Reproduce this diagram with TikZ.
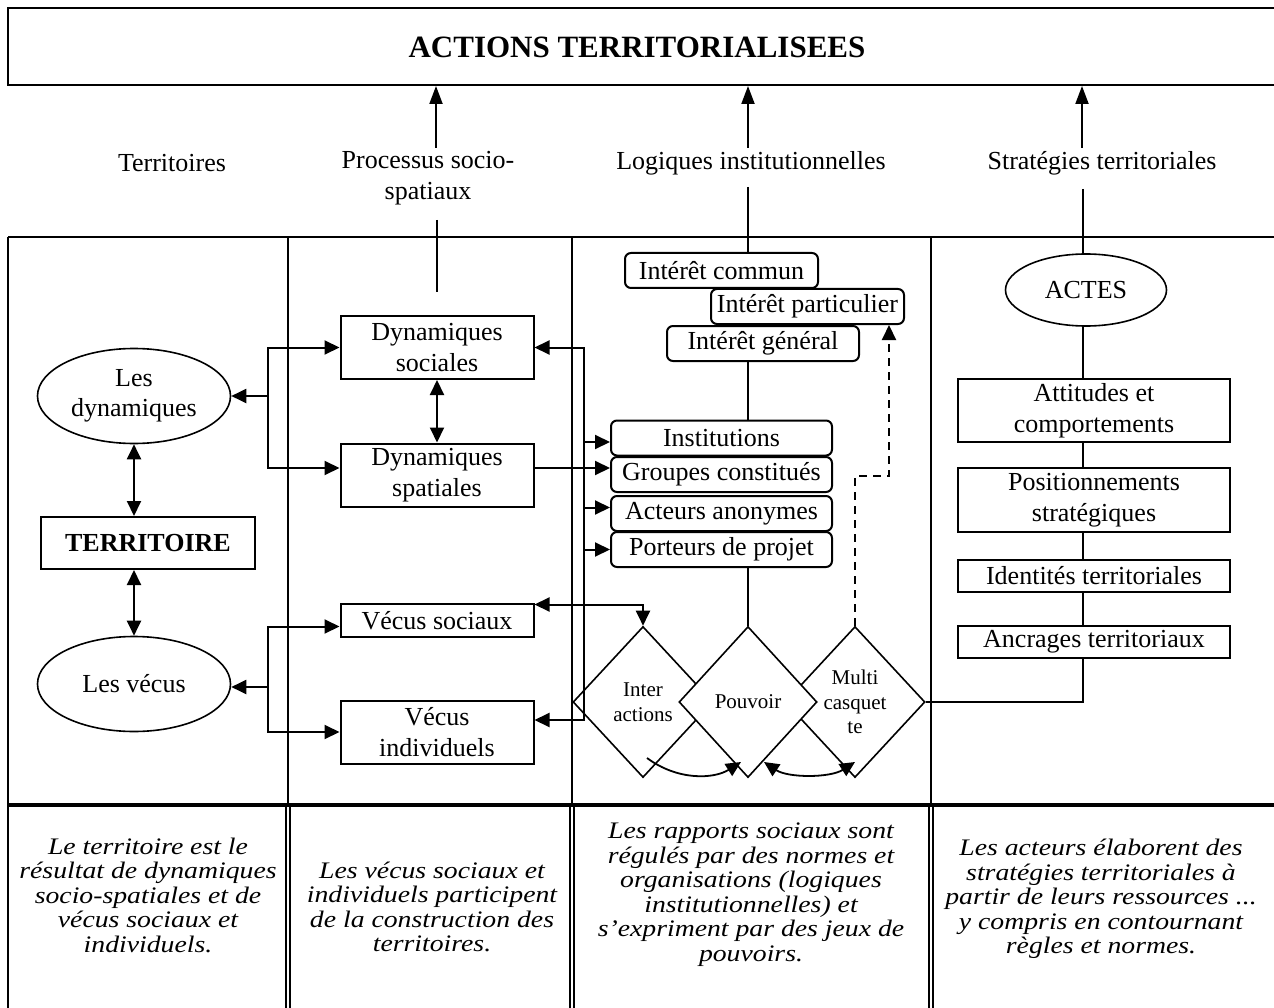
\documentclass[tikz,border=0pt]{standalone}
\usepackage{fontspec}
\setmainfont{Liberation Serif}
\newfontfamily\notefont{Liberation Serif}[FakeStretch=1.17]
\usetikzlibrary{arrows.meta,shapes.geometric}
\begin{document}
\begin{tikzpicture}[x=1pt,y=-1pt,
  every node/.style={inner sep=0pt},
  >={Triangle[length=15pt,width=14pt]},
  ln/.style={line width=2pt},
  uparrow/.style={line width=2pt,-{Triangle[length=18pt,width=13pt]}},
  rtxt/.style={font=\fontsize{26}{30.5}\selectfont,align=center},
  sq/.style={rtxt,draw,line width=2pt},
  rsq/.style={sq,rounded corners=6pt},
  ell/.style={rtxt,draw,ellipse,line width=1.6pt},
  dia/.style={draw,diamond,line width=1.6pt,minimum width=140pt,minimum height=151pt,align=center,font=\fontsize{21}{24.5}\selectfont},
  note/.style={font=\notefont\itshape\fontsize{23.7}{24.5}\selectfont,align=center}]
\fill[white] (0,0) rectangle (1274,1008);
\useasboundingbox (0,0) rectangle (1274,1008);

% title box
\draw[ln] (1274,8) -- (8,8) -- (8,85) -- (1274,85);
\node[font=\fontsize{31}{36}\selectfont\bfseries] (title) at (637,47) {ACTIONS TERRITORIALISEES};
\coordinate (tb) at (0,86);

% column labels
\node[rtxt] (l1) at (172,163) {Territoires};
\node[rtxt] (l2) at (428,178) {Processus socio-\\spatiaux};
\node[rtxt] (l3) at (751,163) {Logiques institutionnelles};
\node[rtxt] (l4) at (1102,163) {Stratégies territoriales};

\coordinate (a2) at (436,148);
\coordinate (a3) at (748,148);
\coordinate (a4) at (1082,148);
\draw[uparrow] (a2) -- (a2 |- tb);
\draw[uparrow] (a3) -- (a3 |- tb);
\draw[uparrow] (a4) -- (a4 |- tb);

% table
\draw[ln] (8,237) -- (1274,237);
\draw[ln] (8,237) -- (8,1008);
\foreach \x in {288,572,931} \draw[ln] (\x,237) -- (\x,805);
\draw[line width=4pt] (8,805) -- (1274,805);
\foreach \x in {288,572,931} {
  \draw[line width=1.6pt] (\x-2,805) -- (\x-2,1008);
  \draw[line width=1.6pt] (\x+2,805) -- (\x+2,1008);
}

% column 1
\node[ell,minimum width=193pt,minimum height=95pt] (ldyn) at (134,396) {Les\\dynamiques};
\node[sq,minimum width=214pt,minimum height=52pt,font=\fontsize{26}{30.5}\selectfont\bfseries] (terr) at (148,543) {TERRITOIRE};
\node[ell,minimum width=193pt,minimum height=95pt] (lvec) at (134,684) {Les vécus};
\draw[ln,<->] (ldyn.south) -- (ldyn.south |- terr.north);
\draw[ln,<->] (lvec.north |- terr.south) -- (lvec.north);

% column 2
\node[sq,minimum width=193pt,minimum height=63pt] (dsoc) at (437,347.5) {Dynamiques\\sociales};
\node[sq,minimum width=193pt,minimum height=63pt] (dspa) at (437,475) {Dynamiques\\spatiales};
\node[sq,minimum width=193pt,minimum height=33pt] (vs) at (437,620.5) {Vécus sociaux};
\node[sq,minimum width=193pt,minimum height=63pt] (vi) at (437,732) {Vécus\\individuels};
\draw[ln,<->] (dsoc.south) -- (dsoc.south |- dspa.north);

\coordinate (b2) at (437,220);
\coordinate (b2e) at (437,292);
\draw[ln] (b2) -- (b2e);

% forks from column 1
\coordinate (fd) at (268,396);
\coordinate (fv) at (268,687);
\draw[ln,->] (fd) -- (ldyn.east);
\draw[ln,->] (fd) |- (dsoc.west);
\draw[ln,->] (fd) |- ([yshift=7pt]dspa.west);
\draw[ln,->] (fv) -- (lvec.east |- fv);
\draw[ln,->] (fv) |- ([yshift=-6pt]vs.west);
\draw[ln,->] (fv) |- (vi.west);

% column 3
\node[rsq,minimum width=193pt,minimum height=35pt] (icom) at (721.5,270.5) {Intérêt commun};
\node[rsq,minimum width=193pt,minimum height=35pt] (ipart) at (807.5,306.5) {Intérêt particulier};
\node[rsq,minimum width=192pt,minimum height=35pt] (ig) at (763,343.5) {Intérêt général};
\node[rsq,minimum width=221pt,minimum height=35pt] (inst) at (721.5,438) {Institutions};
\node[rsq,minimum width=221pt,minimum height=35pt] (grp) at (721.5,474.5) {Groupes constitués};
\node[rsq,minimum width=221pt,minimum height=35pt] (act) at (721.5,513.5) {Acteurs anonymes};
\node[rsq,minimum width=221pt,minimum height=35pt] (port) at (721.5,549.5) {Porteurs de projet};

\node[dia] (inter) at (643,702) {Inter\\actions};
\node[dia] (multi) at (855,702) {Multi\\casquet\\te};
\node[dia,fill=white,minimum width=138pt] (pouv) at (748,702) {Pouvoir};

\coordinate (b3) at (748,187);
\draw[ln] (b3) -- (b3 |- icom.north);
\draw[ln] (ig.south -| b3) -- (inst.north -| b3);
\draw[ln] (port.south -| pouv.north) -- (pouv.north);

\coordinate (bus) at (584,348);
\draw[ln,<->] (dsoc.east) -| (bus |- 0,720) -- ([yshift=12pt]vi.east);
\draw[ln,->] ([yshift=-4pt]inst.west -| bus) -- ([yshift=-4pt]inst.west);
\draw[ln,->] ([yshift=7pt]dspa.east) -- ([yshift=7pt]dspa.east -| grp.west);
\draw[ln,->] ([yshift=6pt]act.west -| bus) -- ([yshift=6pt]act.west);
\draw[ln,->] (port.west -| bus) -- (port.west);
\draw[ln,<->] ([yshift=16pt]vs.east) -| (inter.north);

\coordinate (dm) at (889,476);
\draw[ln,dash pattern=on 8pt off 6pt,->] (multi.north) |- (dm) -- (dm |- ipart.south);

\coordinate (c1s) at (647,758);
\coordinate (c1e) at (741,762);
\coordinate (c2s) at (764,762);
\coordinate (c2e) at (855,762);
\draw[line width=1.8pt,->] (c1s) .. controls (678,781) and (714,779) .. (c1e);
\draw[line width=1.8pt,<->] (c2s) .. controls (788,778) and (830,778) .. (c2e);

% column 4
\node[ell,minimum width=161pt,minimum height=72pt] (actes) at (1086,290) {ACTES};
\node[sq,minimum width=272pt,minimum height=63pt] (att) at (1094,410.5) {Attitudes et\\comportements};
\node[sq,minimum width=272pt,minimum height=64pt] (pos) at (1094,500) {Positionnements\\stratégiques};
\node[sq,minimum width=272pt,minimum height=32pt] (ident) at (1094,576) {Identités territoriales};
\node[sq,minimum width=272pt,minimum height=32pt] (anc) at (1094,642) {Ancrages territoriaux};

\coordinate (b4) at (1083,189);
\draw[ln] (b4) -- (b4 |- actes.north);
\draw[ln] (actes.south -| b4) -- (att.north -| b4);
\draw[ln] (att.south -| b4) -- (pos.north -| b4);
\draw[ln] (pos.south -| b4) -- (ident.north -| b4);
\draw[ln] (ident.south -| b4) -- (anc.north -| b4);
\draw[ln] (anc.south -| b4) |- (multi.east);

% notes
\node[note] (n1) at (148,895) {Le territoire est le\\résultat de dynamiques\\socio-spatiales et de\\vécus sociaux et\\individuels.};
\node[note] (n2) at (432,907) {Les vécus sociaux et\\individuels participent\\de la construction des\\territoires.};
\node[note] (n3) at (751,894.5) {Les rapports sociaux sont\\régulés par des normes et\\organisations (logiques\\institutionnelles) et\\s’expriment par des jeux de\\pouvoirs.};
\node[note] (n4) at (1101,899) {Les acteurs élaborent des\\stratégies territoriales à\\partir de leurs ressources ...\\y compris en contournant\\règles et normes.};
\end{tikzpicture}
\end{document}
